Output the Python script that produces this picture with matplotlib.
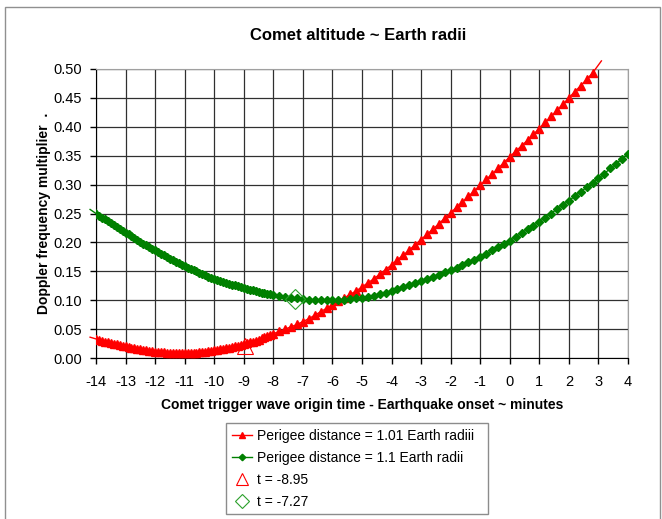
import matplotlib
matplotlib.use("Agg")
import matplotlib.pyplot as plt
from matplotlib.patches import Rectangle

plt.rcParams['font.family'] = ['Liberation Sans', 'DejaVu Sans']

# red series: perigee 1.01 earth radii (points are denser on the left)
red_x = [-14.2, -14.1, -14.0, -13.9, -13.8, -13.7, -13.6, -13.5, -13.4, -13.3,
         -13.2, -13.1, -13.0, -12.9, -12.8, -12.7, -12.6, -12.5, -12.4, -12.3,
         -12.2, -12.1, -12.0, -11.9, -11.8, -11.7, -11.6, -11.5, -11.4, -11.3,
         -11.2, -11.1, -11.0, -10.9, -10.8, -10.7, -10.6, -10.5, -10.4, -10.3,
         -10.2, -10.1, -10.0, -9.9, -9.8, -9.7, -9.6, -9.5, -9.4, -9.3,
         -9.2, -9.1, -9.0, -8.9, -8.8, -8.7, -8.6, -8.5, -8.4, -8.3,
         -8.2, -8.1, -8.0, -7.8, -7.6, -7.4, -7.2, -7.0, -6.8, -6.6,
         -6.4, -6.2, -6.0, -5.8, -5.6, -5.4, -5.2, -5.0, -4.8, -4.6,
         -4.4, -4.2, -4.0, -3.8, -3.6, -3.4, -3.2, -3.0, -2.8, -2.6,
         -2.4, -2.2, -2.0, -1.8, -1.6, -1.4, -1.2, -1.0, -0.8, -0.6,
         -0.4, -0.2, 0.0, 0.2, 0.4, 0.6, 0.8, 1.0, 1.2, 1.4,
         1.6, 1.8, 2.0, 2.2, 2.4, 2.6, 2.8, 3.1]
red_y = [0.036, 0.0345, 0.033, 0.0315, 0.030, 0.0285, 0.027, 0.026, 0.025, 0.0235,
         0.022, 0.021, 0.020, 0.019, 0.018, 0.017, 0.016, 0.015, 0.014, 0.013,
         0.012, 0.0115, 0.011, 0.0105, 0.010, 0.0098, 0.0095, 0.0092, 0.009, 0.009,
         0.009, 0.009, 0.009, 0.009, 0.009, 0.0092, 0.0095, 0.0098, 0.010, 0.011,
         0.012, 0.0125, 0.013, 0.014, 0.015, 0.016, 0.017, 0.018, 0.019, 0.020,
         0.021, 0.0225, 0.024, 0.0255, 0.027, 0.0285, 0.030, 0.032, 0.034, 0.036,
         0.038, 0.040, 0.042, 0.046, 0.050, 0.054, 0.058, 0.063, 0.068, 0.074,
         0.080, 0.086, 0.092, 0.098, 0.104, 0.110, 0.116, 0.123, 0.130, 0.137,
         0.145, 0.153, 0.161, 0.170, 0.178, 0.187, 0.196, 0.205, 0.214, 0.223,
         0.232, 0.242, 0.251, 0.261, 0.270, 0.280, 0.289, 0.299, 0.309, 0.318,
         0.328, 0.338, 0.348, 0.358, 0.367, 0.377, 0.387, 0.397, 0.408, 0.418,
         0.429, 0.439, 0.450, 0.461, 0.471, 0.482, 0.493, 0.514]

# green series: perigee 1.1 earth radii
green_x = [-14.2, -14.1, -14.0, -13.9, -13.8, -13.7, -13.6, -13.5, -13.4, -13.3,
           -13.2, -13.1, -13.0, -12.9, -12.8, -12.7, -12.6, -12.5, -12.4, -12.3,
           -12.2, -12.1, -12.0, -11.9, -11.8, -11.7, -11.6, -11.5, -11.4, -11.3,
           -11.2, -11.1, -11.0, -10.9, -10.8, -10.7, -10.6, -10.5, -10.4, -10.3,
           -10.2, -10.1, -10.0, -9.9, -9.8, -9.7, -9.6, -9.5, -9.4, -9.3,
           -9.2, -9.1, -9.0, -8.9, -8.8, -8.7, -8.6, -8.5, -8.4, -8.3,
           -8.2, -8.1, -8.0, -7.8, -7.6, -7.4, -7.2, -7.0, -6.8, -6.6,
           -6.4, -6.2, -6.0, -5.8, -5.6, -5.4, -5.2, -5.0, -4.8, -4.6,
           -4.4, -4.2, -4.0, -3.8, -3.6, -3.4, -3.2, -3.0, -2.8, -2.6,
           -2.4, -2.2, -2.0, -1.8, -1.6, -1.4, -1.2, -1.0, -0.8, -0.6,
           -0.4, -0.2, 0.0, 0.2, 0.4, 0.6, 0.8, 1.0, 1.2, 1.4,
           1.6, 1.8, 2.0, 2.2, 2.4, 2.6, 2.8, 3.0, 3.2, 3.4,
           3.6, 3.8, 4.0]
green_y = [0.257, 0.2535, 0.250, 0.2465, 0.243, 0.240, 0.237, 0.2335, 0.230, 0.227,
           0.224, 0.2205, 0.217, 0.214, 0.211, 0.208, 0.205, 0.2015, 0.198, 0.195,
           0.192, 0.189, 0.186, 0.183, 0.180, 0.1775, 0.175, 0.172, 0.169, 0.1665,
           0.164, 0.1615, 0.159, 0.1565, 0.154, 0.152, 0.150, 0.1475, 0.145, 0.143,
           0.141, 0.139, 0.137, 0.135, 0.133, 0.1315, 0.130, 0.1285, 0.127, 0.1255,
           0.124, 0.1225, 0.121, 0.1195, 0.118, 0.117, 0.116, 0.1145, 0.113, 0.112,
           0.111, 0.110, 0.109, 0.107, 0.106, 0.104, 0.103, 0.102, 0.101, 0.1005,
           0.100, 0.100, 0.100, 0.100, 0.101, 0.102, 0.103, 0.104, 0.106, 0.108,
           0.110, 0.113, 0.116, 0.119, 0.122, 0.126, 0.129, 0.133, 0.137, 0.140,
           0.144, 0.148, 0.152, 0.156, 0.161, 0.166, 0.170, 0.175, 0.180, 0.186,
           0.192, 0.197, 0.203, 0.209, 0.216, 0.223, 0.229, 0.236, 0.243, 0.250,
           0.258, 0.265, 0.272, 0.280, 0.288, 0.295, 0.303, 0.311, 0.319, 0.328,
           0.336, 0.345, 0.353]

# single highlighted points
t_red = -8.95
t_red_y = 0.021
t_green = -7.27
t_green_y = 0.1015

x_ticks = list(range(-14, 5))
y_ticks = [0.00, 0.05, 0.10, 0.15, 0.20, 0.25, 0.30, 0.35, 0.40, 0.45, 0.50]

W, H = 662, 519
fig = plt.figure(figsize=(W / 100, H / 100), dpi=100)
fig.patches.append(Rectangle((5 / W, -0.01), 655 / W, 1 - 7 / H + 0.01,
                             transform=fig.transFigure, fill=False,
                             edgecolor='#909090', lw=1))

ax = fig.add_axes([96 / W, 1 - 358 / H, 532 / W, 289 / H])
ax.set_xlim(-14, 4)
ax.set_ylim(0, 0.5)

ax.set_xticks(x_ticks)
ax.set_yticks(y_ticks)
ax.set_xticklabels([str(v) for v in x_ticks])
ax.set_yticklabels([f"{v:.2f}" for v in y_ticks])
ax.tick_params(axis='both', direction='out', length=4, width=1, colors='black',
               labelsize=10.5)
ax.tick_params(axis='x', pad=8)
ax.tick_params(axis='y', pad=6)
ax.grid(True, color='#303030', lw=0.9)
ax.set_axisbelow(True)

for s in ['top', 'right']:
    ax.spines[s].set_color('#a0a0a0')
for s in ['left', 'bottom']:
    ax.spines[s].set_color('black')

# lines run a bit past the plot frame, markers stay inside
ax.plot(red_x, red_y, color='red', lw=1, clip_on=False, zorder=3)
ax.plot(red_x, red_y, ls='none', marker='^', ms=5.5, color='red', zorder=4)
ax.plot(green_x, green_y, color='#008000', lw=1, clip_on=False, zorder=3)
ax.plot(green_x, green_y, ls='none', marker='D', ms=3.6, color='#008000', zorder=4)
ax.plot([t_red], [t_red_y], ls='none', marker='^', ms=12, mfc='none',
        mec='red', mew=0.8, zorder=5)
ax.plot([t_green], [t_green_y], ls='none', marker='D', ms=10, mfc='none',
        mec='#2ca02c', mew=0.8, zorder=5)

h1, = ax.plot([], [], color='red', lw=1, marker='^', ms=5)
h2, = ax.plot([], [], color='#008000', lw=1, marker='D', ms=3.3)
h3, = ax.plot([], [], ls='none', marker='^', ms=9, mfc='none', mec='red', mew=0.8)
h4, = ax.plot([], [], ls='none', marker='D', ms=7, mfc='none', mec='#2ca02c', mew=0.8)

fig.text(358 / W, 1 - 36 / H, 'Comet altitude ~ Earth radii', ha='center',
         va='center', fontsize=12, fontweight='bold')
ax.set_xlabel('Comet trigger wave origin time - Earthquake onset ~ minutes',
              fontsize=10, fontweight='bold')
ax.xaxis.set_label_coords(0.5, (358 - 405) / 289, transform=ax.transAxes)
ax.xaxis.label.set_va('center')
ax.set_ylabel('Doppler frequency multiplier  .', fontsize=10, fontweight='bold')
ax.yaxis.set_label_coords((44 - 96) / 532, 0.5, transform=ax.transAxes)
ax.yaxis.label.set_va('center')

leg = fig.legend([h1, h2, h3, h4],
                 ['Perigee distance = 1.01 Earth radiii',
                  'Perigee distance = 1.1 Earth radii',
                  't = -8.95', 't = -7.27'],
                 loc='upper left',
                 bbox_to_anchor=(226 / W, 1 - 510 / H, 262 / W, 87 / H),
                 mode='expand', fontsize=10, frameon=True, fancybox=False,
                 handlelength=1.5, handletextpad=0.3, borderpad=0.4,
                 labelspacing=0.58, borderaxespad=0)
leg.get_frame().set_edgecolor('#707070')
leg.get_frame().set_linewidth(1)
leg._legend_box.align = 'left'

fig.savefig('out.png', dpi=100)
